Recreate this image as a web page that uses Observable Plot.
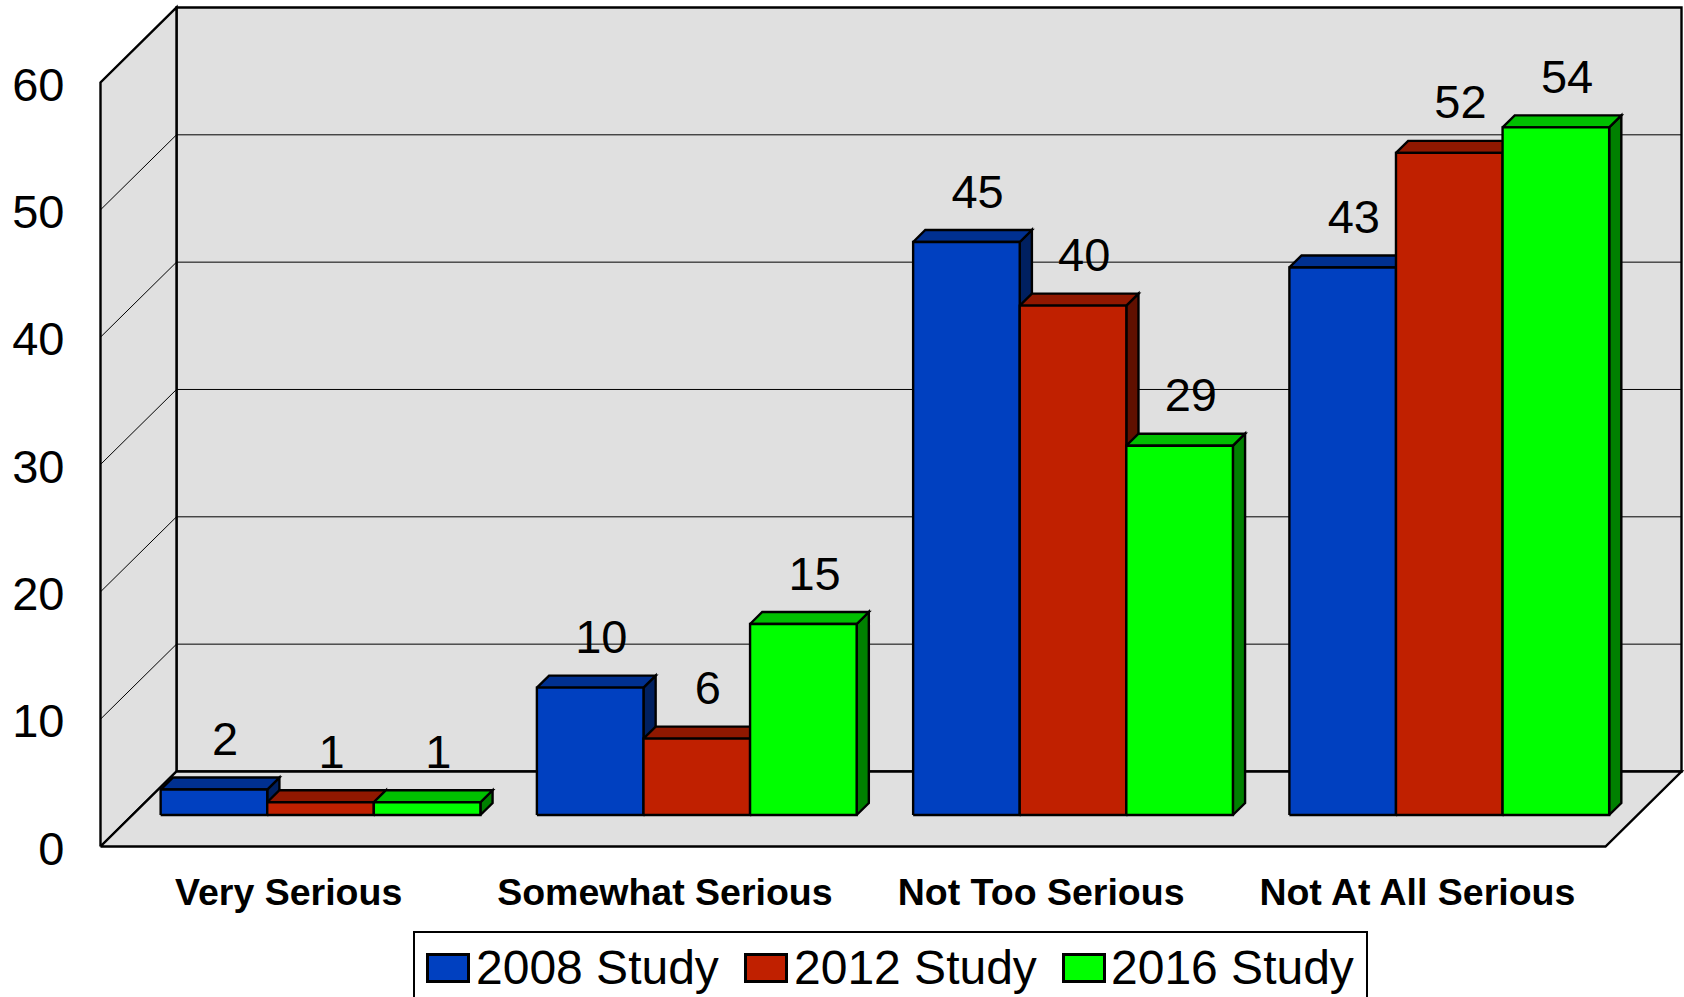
<!DOCTYPE html>
<html>
<head>
<meta charset="utf-8">
<script src="https://cdn.jsdelivr.net/npm/d3@7"></script>
<script src="https://cdn.jsdelivr.net/npm/@observablehq/plot@0.6"></script>
<style>
html,body{margin:0;padding:0;background:#fff;width:1684px;height:997px;overflow:hidden}
#chart svg{display:block}
#legend{box-sizing:border-box;position:absolute;left:413px;top:931px;width:955px;height:66px;border:2.5px solid #000;border-bottom:none;font:48px "Liberation Sans",Arial,sans-serif;color:#000;white-space:nowrap;overflow:hidden}
#legend .sw{position:absolute;top:20px;width:44px;height:30px;box-sizing:border-box;border:3px solid #000}
#legend .lb{position:absolute;top:7px;line-height:56px}
</style>
</head>
<body>
<div id="chart"></div>
<div id="legend"></div>
<script>
const categories = ["Very Serious", "Somewhat Serious", "Not Too Serious", "Not At All Serious"];
const seriesNames = ["2008 Study", "2012 Study", "2016 Study"];
const study2008 = [2, 10, 45, 43];
const study2012 = [1, 6, 40, 52];
const study2016 = [1, 15, 29, 54];
const yTicks = [0, 10, 20, 30, 40, 50, 60];
const frontColors = ["#0040c0", "#c02000", "#00ff00"];
const topColors = ["#003090", "#901800", "#00c000"];
const sideColors = ["#002060", "#601000", "#008000"];
const wallColor = "#e0e0e0";

const series = [study2008, study2012, study2016];
const nCat = categories.length, yMax = 60;
// oblique projection: depth 0 = front of the floor, depth 1 = back wall
const depthX = 76 / 376.25, depthY = 75 / 12.73;
const P = (x, v, d) => ({x: x + d * depthX, y: v + d * depthY});
const d0 = 0.42, d1 = 0.58, pad = 0.075, barW = 0.2833;

const poly = (pts, fill, strokeWidth = 2.4) =>
  Plot.line([...pts, pts[0]], {x: "x", y: "y", fill, stroke: "#000", strokeWidth,
    strokeLinejoin: "miter", strokeMiterlimit: 4, strokeLinecap: "butt"});
const seg = (pts, strokeWidth) =>
  Plot.line(pts, {x: "x", y: "y", stroke: "#000", strokeWidth, strokeLinecap: "butt"});

const marks = [];
// walls and floor
marks.push(poly([P(0,0,1), P(0,yMax,1), P(nCat,yMax,1), P(nCat,0,1)], wallColor));
marks.push(poly([P(0,0,0), P(0,yMax,0), P(0,yMax,1), P(0,0,1)], wallColor));
marks.push(poly([P(0,0,0), P(0,0,1), P(nCat,0,1), P(nCat,0,0)], wallColor));
// gridlines
yTicks.filter(v => v > 0 && v < yMax).forEach(v => {
  marks.push(seg([P(0,v,0), P(0,v,1), P(nCat,v,1)], 1));
});
// bars, painted left to right
const labels = [];
categories.forEach((c, i) => {
  series.forEach((vals, j) => {
    const v = vals[i], a = i + pad + j * barW, b = a + barW;
    marks.push(poly([P(b,0,d0), P(b,v,d0), P(b,v,d1), P(b,0,d1)], sideColors[j]));
    marks.push(poly([P(a,v,d0), P(a,v,d1), P(b,v,d1), P(b,v,d0)], topColors[j]));
    marks.push(poly([P(a,0,d0), P(a,v,d0), P(b,v,d0), P(b,0,d0)], frontColors[j]));
    const t = P((a + b) / 2, v, d1);
    labels.push({x: t.x, y: t.y, v});
  });
});
marks.push(Plot.text(labels, {x: "x", y: "y", text: d => String(d.v), dx: -1, dy: -37.5, fontSize: 47, fill: "#000", lineAnchor: "middle"}));
marks.push(Plot.axisY(yTicks, {anchor: "left", tickSize: 0, tickPadding: 36, dy: 3, fontSize: 47, fill: "#000", label: null, tickFormat: d => String(d)}));
marks.push(Plot.axisX(categories.map((c, i) => i + 0.5), {anchor: "bottom", tickSize: 0, tickPadding: 32, fontSize: 37.5, fontWeight: "bold", fill: "#000", label: null, tickFormat: d => categories[Math.floor(d)]}));

const chart = Plot.plot({
  width: 1684, height: 925,
  marginLeft: 100, marginRight: 79, marginTop: 82, marginBottom: 79,
  x: {domain: [0, nCat]},
  y: {domain: [0, yMax]},
  style: {fontFamily: '"Liberation Sans", Arial, sans-serif', background: "#fff", overflow: "visible"},
  marks
});
document.getElementById("chart").appendChild(chart);

const legend = document.getElementById("legend");
const swatchLeft = [11, 329, 647], labelLeft = [61, 379, 696];
seriesNames.forEach((name, j) => {
  const s = document.createElement("div");
  s.className = "sw"; s.style.left = swatchLeft[j] + "px"; s.style.background = frontColors[j];
  const l = document.createElement("div");
  l.className = "lb"; l.style.left = labelLeft[j] + "px"; l.textContent = name;
  legend.append(s, l);
});
</script>
</body>
</html>
